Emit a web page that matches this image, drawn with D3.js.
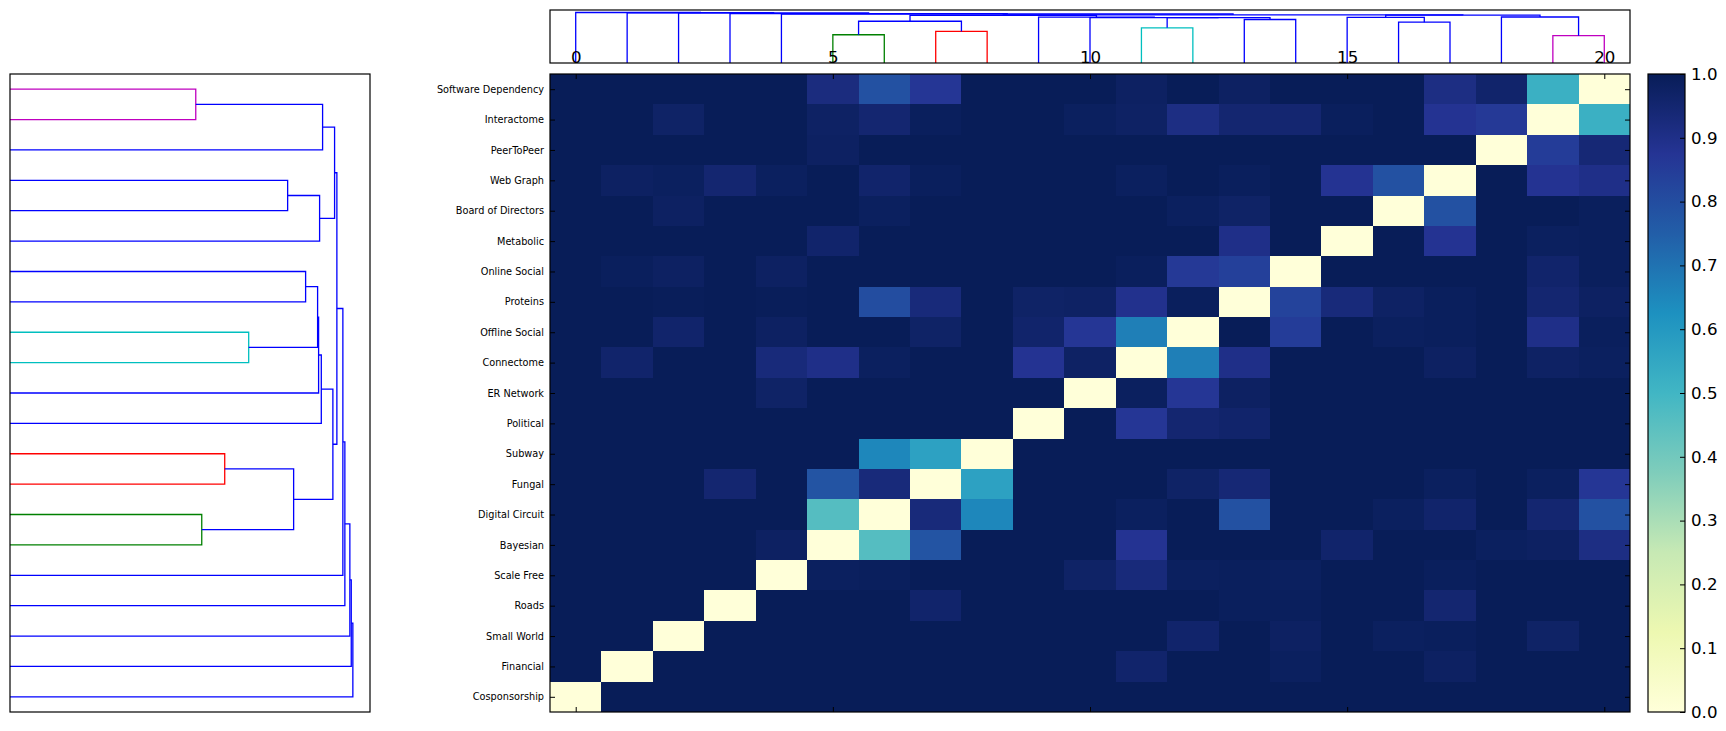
<!DOCTYPE html>
<html>
<head>
<meta charset="utf-8">
<script src="https://cdn.jsdelivr.net/npm/d3@7"></script>
<style>
body { margin: 0; background: #fff; }
text { font-family: "DejaVu Sans", sans-serif; fill: #000; }
</style>
</head>
<body>
<svg id="chart"></svg>
<script>
var viewWidth = 1726;
var viewHeight = 731;

// row/column labels, row 0 sits at the bottom of the heatmap
var networks = ["Cosponsorship", "Financial", "Small World", "Roads", "Scale Free",
  "Bayesian", "Digital Circuit", "Fungal", "Subway", "Political", "ER Network",
  "Connectome", "Offline Social", "Proteins", "Online Social", "Metabolic",
  "Board of Directors", "Web Graph", "PeerToPeer", "Interactome", "Software Dependency"];

var xTicks = [0, 5, 10, 15, 20];
var cbarTicks = [0.0, 0.1, 0.2, 0.3, 0.4, 0.5, 0.6, 0.7, 0.8, 0.9, 1.0];

// distance matrix, one row per network (same order as networks)
var distance = [
  [0,1,1,1,1,1,1,1,1,1,1,1,1,1,1,1,1,1,1,1,1],
  [1,0,1,1,1,1,1,1,1,1,1,0.96,1,1,0.985,1,1,0.98,1,1,1],
  [1,1,0,1,1,1,1,1,1,1,1,1,0.96,1,0.98,1,0.985,0.99,1,0.97,1],
  [1,1,1,0,1,1,1,0.96,1,1,1,1,1,0.99,0.99,1,1,0.95,1,1,1],
  [1,1,1,1,0,0.985,0.99,1,1,1,0.97,0.93,0.985,0.99,0.985,1,1,0.99,1,1,1],
  [1,1,1,1,0.98,0,0.46,0.78,1,1,1,0.88,1,1,1,0.96,1,1,0.985,0.98,0.91],
  [1,1,1,1,1,0.46,0,0.93,0.65,1,1,0.985,1,0.79,1,1,0.985,0.96,1,0.95,0.79],
  [1,1,1,0.95,1,0.78,0.93,0,0.57,1,1,1,0.97,0.94,1,1,1,0.985,1,0.985,0.87],
  [1,1,1,1,1,1,0.65,0.57,0,1,1,1,1,1,1,1,1,1,1,1,1],
  [1,1,1,1,1,1,1,1,1,0,1,0.87,0.95,0.96,1,1,1,1,1,1,1],
  [1,1,1,1,0.97,1,1,1,1,1,0,0.985,0.87,0.98,1,1,1,1,1,1,1],
  [1,0.96,1,1,0.93,0.9,0.985,1,1,0.88,0.975,0,0.67,0.9,1,1,1,0.98,1,0.975,0.985],
  [1,1,0.96,1,0.98,1,1,0.97,1,0.96,0.87,0.67,0,1,0.85,1,0.985,0.99,1,0.9,0.99],
  [1,1,0.995,1,0.995,1,0.8,0.93,1,0.97,0.975,0.89,0.99,0,0.83,0.93,0.975,0.99,1,0.95,0.98],
  [1,0.99,0.98,1,0.98,1,1,1,1,1,1,0.99,0.86,0.84,0,1,1,1,1,0.96,0.99],
  [1,1,1,1,1,0.96,1,1,1,1,1,1,1,0.9,1,0,1,0.88,1,0.985,0.99],
  [1,1,0.98,1,1,1,0.985,1,1,1,1,1,0.985,0.97,1,1,0,0.79,1,1,0.99],
  [1,0.98,0.985,0.95,0.985,1,0.96,0.99,1,1,1,0.985,1,0.99,1,0.88,0.79,0,1,0.88,0.9],
  [1,1,1,1,1,0.98,1,1,1,1,1,1,1,1,1,1,1,1,0,0.85,0.94],
  [1,1,0.97,1,1,0.975,0.95,0.99,1,1,0.985,0.975,0.91,0.95,0.95,0.99,1,0.88,0.86,0,0.52],
  [1,1,1,1,1,0.92,0.79,0.87,1,1,1,0.98,1,0.98,1,1,1,0.91,0.96,0.52,0]
];

// hierarchical clustering merges: [child a, child b, height]; new nodes get ids 21, 22, ...
var linkage = [
  [19, 20, 186],    // 21
  [16, 17, 278],    // 22
  [5, 6, 192],      // 23
  [7, 8, 215],      // 24
  [11, 12, 239],    // 25
  [13, 14, 296],    // 26
  [23, 24, 284],    // 27
  [18, 21, 313],    // 28
  [15, 22, 310],    // 29
  [26, 25, 308],    // 30
  [30, 10, 309],    // 31
  [31, 9, 311.7],   // 32
  [32, 27, 323.3],  // 33
  [29, 28, 325],    // 34
  [33, 34, 327.3],  // 35
  [35, 4, 333.3],   // 36
  [36, 3, 335.3],   // 37
  [37, 2, 340.3],   // 38
  [38, 1, 341.7],   // 39
  [39, 0, 343.3]    // 40
];

var cmapColors = ["#ffffd9", "#edf8b1", "#c7e9b4", "#7fcdbb", "#41b6c4", "#1d91c0", "#225ea8", "#253494", "#081d58"];
var clusterColors = ["#008000", "#ff0000", "#00bfbf", "#bf00bf"];
var aboveColor = "#0000ff";

var heat = {left: 550, right: 1630, top: 74, bottom: 712};
var leftBox = {left: 10, right: 370, top: 74, bottom: 712};
var topBox = {left: 550, right: 1630, top: 10, bottom: 63};
var cbarBox = {left: 1648, right: 1685, top: 74, bottom: 712};

var svg = d3.select("#chart")
  .attr("width", viewWidth)
  .attr("height", viewHeight);

var n = networks.length;
var x = d3.scaleLinear().domain([-0.5, n - 0.5]).range([heat.left, heat.right]);
var y = d3.scaleLinear().domain([-0.5, n - 0.5]).range([heat.bottom, heat.top]);

var color = d3.scaleLinear()
  .domain(cmapColors.map(function(c, i) { return i / (cmapColors.length - 1); }))
  .range(cmapColors)
  .interpolate(d3.interpolateRgb);

// ---- heatmap cells
var cells = [];
distance.forEach(function(row, r) {
  row.forEach(function(v, c) { cells.push({r: r, c: c, v: v}); });
});

svg.append("g")
  .attr("shape-rendering", "crispEdges")
  .selectAll("rect")
  .data(cells)
  .enter().append("rect")
  .attr("x", function(d) { return Math.round(x(d.c - 0.5)); })
  .attr("y", function(d) { return Math.round(y(d.r + 0.5)); })
  .attr("width", function(d) { return Math.round(x(d.c + 0.5)) - Math.round(x(d.c - 0.5)); })
  .attr("height", function(d) { return Math.round(y(d.r - 0.5)) - Math.round(y(d.r + 0.5)); })
  .style("fill", function(d) { return color(d.v); });

// ---- dendrogram tree
var nodes = [];
for (var i = 0; i < n; i++) nodes.push({leaf: true, pos: i, h: 0, first: i});
linkage.forEach(function(l) {
  var a = nodes[l[0]], b = nodes[l[1]];
  var node = {a: a, b: b, h: l[2], pos: (a.pos + b.pos) / 2, first: Math.min(a.first, b.first)};
  a.parent = node;
  b.parent = node;
  nodes.push(node);
});
var links = nodes.filter(function(d) { return !d.leaf; });

var hMax = d3.max(linkage, function(l) { return l[2]; });
var threshold = 0.7 * hMax;

// colour the clusters that sit under the threshold, in leaf order
links.filter(function(d) { return d.h < threshold && (!d.parent || d.parent.h >= threshold); })
  .sort(function(p, q) { return p.first - q.first; })
  .forEach(function(d, k) { d.color = clusterColors[k % clusterColors.length]; });

function linkColor(d) {
  if (d.h >= threshold) return aboveColor;
  while (d.parent && d.parent.h < threshold) d = d.parent;
  return d.color;
}

var line = d3.line();

// left dendrogram: leaves on the left, root to the right
var hLeft = d3.scaleLinear().domain([0, hMax * 1.05]).range([leftBox.left, leftBox.right]);
svg.append("g").selectAll("path")
  .data(links)
  .enter().append("path")
  .attr("d", function(d) {
    return line([[hLeft(d.a.h), y(d.a.pos)], [hLeft(d.h), y(d.a.pos)],
                 [hLeft(d.h), y(d.b.pos)], [hLeft(d.b.h), y(d.b.pos)]]);
  })
  .style("fill", "none")
  .style("stroke", linkColor)
  .style("stroke-width", 1.3);

// top dendrogram: leaves at the bottom, root at the top
var hTop = d3.scaleLinear().domain([0, hMax * 1.05]).range([topBox.bottom, topBox.top]);
svg.append("g").selectAll("path")
  .data(links)
  .enter().append("path")
  .attr("d", function(d) {
    return line([[x(d.a.pos), hTop(d.a.h)], [x(d.a.pos), hTop(d.h)],
                 [x(d.b.pos), hTop(d.h)], [x(d.b.pos), hTop(d.b.h)]]);
  })
  .style("fill", "none")
  .style("stroke", linkColor)
  .style("stroke-width", 1.3);

// ---- colorbar
var cy = d3.scaleLinear().domain([0, 1]).range([cbarBox.bottom, cbarBox.top]);
var grad = svg.append("defs").append("linearGradient")
  .attr("id", "cmap")
  .attr("x1", 0).attr("y1", 1).attr("x2", 0).attr("y2", 0);
grad.selectAll("stop")
  .data(color.domain())
  .enter().append("stop")
  .attr("offset", function(d) { return d; })
  .attr("stop-color", function(d) { return color(d); });

svg.append("rect")
  .attr("x", cbarBox.left)
  .attr("y", cbarBox.top)
  .attr("width", cbarBox.right - cbarBox.left)
  .attr("height", cbarBox.bottom - cbarBox.top)
  .style("fill", "url(#cmap)");

// ---- frames
[leftBox, topBox, heat, cbarBox].forEach(function(b) {
  svg.append("rect")
    .attr("x", b.left)
    .attr("y", b.top)
    .attr("width", b.right - b.left)
    .attr("height", b.bottom - b.top)
    .style("fill", "none")
    .style("stroke", "#000")
    .style("stroke-width", 1.2);
});

// ---- axes (ticks point inward, classic style)
function styleAxis(g, size) {
  g.select(".domain").remove();
  g.selectAll(".tick line").style("stroke", "#000").style("stroke-width", 1);
  g.attr("font-family", null).attr("font-size", null);
  g.selectAll("text").style("font-size", size + "px");
}

svg.append("g")
  .attr("transform", "translate(" + heat.left + ",0)")
  .call(d3.axisLeft(y).tickValues(d3.range(n))
    .tickFormat(function(i) { return networks[i]; })
    .tickSize(-5).tickPadding(6))
  .call(styleAxis, 9.72);

svg.append("g")
  .attr("transform", "translate(" + heat.right + ",0)")
  .call(d3.axisRight(y).tickValues(d3.range(n)).tickFormat("").tickSize(-5))
  .call(styleAxis, 9.72);

svg.append("g")
  .attr("transform", "translate(0," + heat.top + ")")
  .call(d3.axisTop(x).tickValues(xTicks).tickSize(-5).tickPadding(11))
  .call(styleAxis, 16.67);

svg.append("g")
  .attr("transform", "translate(0," + heat.bottom + ")")
  .call(d3.axisBottom(x).tickValues(xTicks).tickFormat("").tickSize(-5))
  .call(styleAxis, 16.67);

svg.append("g")
  .attr("transform", "translate(" + cbarBox.right + ",0)")
  .call(d3.axisRight(cy).tickValues(cbarTicks).tickFormat(d3.format(".1f"))
    .tickSize(-5).tickPadding(6))
  .call(styleAxis, 16.67);
</script>
</body>
</html>
